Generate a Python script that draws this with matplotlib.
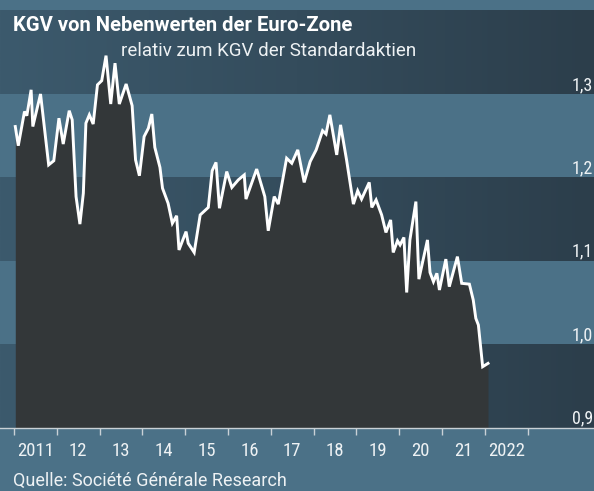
import numpy as np
import matplotlib
matplotlib.use("Agg")
import matplotlib.pyplot as plt
from matplotlib import font_manager
from matplotlib.colors import LinearSegmentedColormap

# Daten: KGV Nebenwerte relativ zu Standardaktien
years = [2011.03, 2011.10, 2011.245, 2011.30, 2011.40, 2011.44, 2011.62, 2011.81, 2011.93,
         2012.05, 2012.15, 2012.29, 2012.36, 2012.45, 2012.54, 2012.62, 2012.68, 2012.76,
         2012.85, 2012.95, 2013.05, 2013.15, 2013.26, 2013.36, 2013.46, 2013.62, 2013.76,
         2013.84, 2013.93, 2014.04, 2014.14, 2014.22, 2014.29, 2014.41, 2014.47, 2014.60,
         2014.70, 2014.80, 2014.855, 2015.02, 2015.07, 2015.21, 2015.35, 2015.54, 2015.63,
         2015.72, 2015.80, 2015.97, 2016.09, 2016.24, 2016.38, 2016.42, 2016.67, 2016.86,
         2016.94, 2017.08, 2017.175, 2017.37, 2017.49, 2017.63, 2017.78, 2017.92, 2018.06,
         2018.21, 2018.29, 2018.38, 2018.54, 2018.63, 2018.77, 2018.93, 2019.03, 2019.12,
         2019.30, 2019.36, 2019.46, 2019.59, 2019.69, 2019.80, 2019.86, 2019.96, 2020.02,
         2020.11, 2020.175, 2020.25, 2020.39, 2020.46, 2020.66, 2020.72, 2020.80, 2020.88,
         2020.94, 2021.09, 2021.17, 2021.36, 2021.46, 2021.64, 2021.73, 2021.79, 2021.85,
         2021.95, 2022.075]
values = [1.261, 1.238, 1.279, 1.274, 1.305, 1.261, 1.300, 1.215, 1.220,
          1.271, 1.240, 1.280, 1.269, 1.177, 1.144, 1.181, 1.265, 1.275,
          1.264, 1.311, 1.316, 1.346, 1.288, 1.337, 1.288, 1.312, 1.286,
          1.221, 1.202, 1.249, 1.259, 1.276, 1.236, 1.212, 1.187, 1.169,
          1.145, 1.154, 1.113, 1.135, 1.121, 1.110, 1.155, 1.164, 1.208,
          1.218, 1.163, 1.207, 1.188, 1.197, 1.203, 1.174, 1.210, 1.177,
          1.136, 1.177, 1.168, 1.223, 1.217, 1.233, 1.194, 1.219, 1.233,
          1.256, 1.252, 1.275, 1.227, 1.263, 1.221, 1.168, 1.184, 1.174,
          1.194, 1.164, 1.173, 1.155, 1.134, 1.149, 1.110, 1.124, 1.119,
          1.128, 1.062, 1.125, 1.171, 1.078, 1.125, 1.086, 1.075, 1.085,
          1.065, 1.102, 1.069, 1.105, 1.073, 1.072, 1.053, 1.031, 1.023,
          0.973, 0.977]

tick_years = list(range(2011, 2024))
year_labels = ["2011", "12", "13", "14", "15", "16", "17", "18", "19", "20", "21", "2022"]
y_levels = [1.3, 1.2, 1.1, 1.0, 0.9]
y_labels = ["1,3", "1,2", "1,1", "1,0", "0,9"]

title = "KGV von Nebenwerten der Euro-Zone"
subtitle = "relativ zum KGV der Standardaktien"
source = "Quelle: Société Générale Research"

# Farben
col_light = "#4b7187"
col_dark_left = "#3c5a6d"
col_dark_right = "#2c3e4b"
col_fill = "#333739"
col_text = "#eef2f4"

installed = {f.name for f in font_manager.fontManager.ttflist}
fam = next((f for f in ["Roboto", "Liberation Sans", "DejaVu Sans"] if f in installed), "DejaVu Sans")
fam_num = next((f for f in ["Roboto Condensed", "Liberation Sans Narrow", fam] if f in installed), fam)
plt.rcParams['font.family'] = [fam, "DejaVu Sans"]

W, H = 594, 491
fig = plt.figure(figsize=(W / 100, H / 100), dpi=100)
fig.patch.set_facecolor(col_light)
ax = fig.add_axes([0, 0, 1, 1])
ax.set_facecolor(col_light)

# Pixel-Abbildung wie im Original: 2011 bei x=14, 42.8 px pro Jahr; 1,3 bei y=94, 834 px je 1.0
px_year = 42.8
x0 = 2011 - 14 / px_year
x1 = 2011 + (W - 14) / px_year
y_top = 1.3 + 94 / 834
y_bot = 1.3 - (H - 94) / 834
ax.set_xlim(x0, x1)
ax.set_ylim(y_bot, y_top)
ax.axis("off")

# dunkle Bänder mit horizontalem Verlauf
cmap = LinearSegmentedColormap.from_list("band", [col_dark_left, col_dark_right])
grad = np.linspace(0, 1, 256).reshape(1, -1)
for lo in [0.9, 1.1, 1.3]:
    ax.imshow(grad, cmap=cmap, extent=[x0, x1, lo, lo + 0.1], aspect="auto",
              interpolation="bilinear", zorder=0)

ax.fill_between(years, values, 0.9, color=col_fill, lw=0, zorder=2)
ax.plot(years, values, color="white", lw=2.1, solid_joinstyle="miter", zorder=3)

# x-Achse
ax.axhline(0.9, color="#c9d1d6", lw=1.0, zorder=4)
tick_len = 7 / 834
ax.vlines(tick_years, 0.9 - tick_len, 0.9, color="#c9d1d6", lw=1.0, zorder=4)
for yr, lab in zip(tick_years, year_labels):
    ax.text(yr + 0.5, 0.9 - 28 / 834, lab, ha="center", va="baseline",
            color=col_text, fontsize=13.5, family=[fam_num, "DejaVu Sans"], zorder=5)

# y-Beschriftung rechts
for lev, lab in zip(y_levels, y_labels):
    ax.text(2011 + (572 - 14) / px_year, lev + 4 / 834, lab, ha="left", va="baseline",
            color=col_text, fontsize=13, family=[fam_num, "DejaVu Sans"], zorder=5)

fig.text(13 / W, 1 - 31 / H, title, ha="left", va="baseline", color="white",
         fontsize=14.6, fontweight="bold")
fig.text(121 / W, 1 - 56.5 / H, subtitle, ha="left", va="baseline", color=col_text,
         fontsize=13.5)
fig.text(13 / W, 1 - 486 / H, source, ha="left", va="baseline", color=col_text,
         fontsize=13)

fig.savefig("out.png", dpi=100, facecolor=fig.get_facecolor())
